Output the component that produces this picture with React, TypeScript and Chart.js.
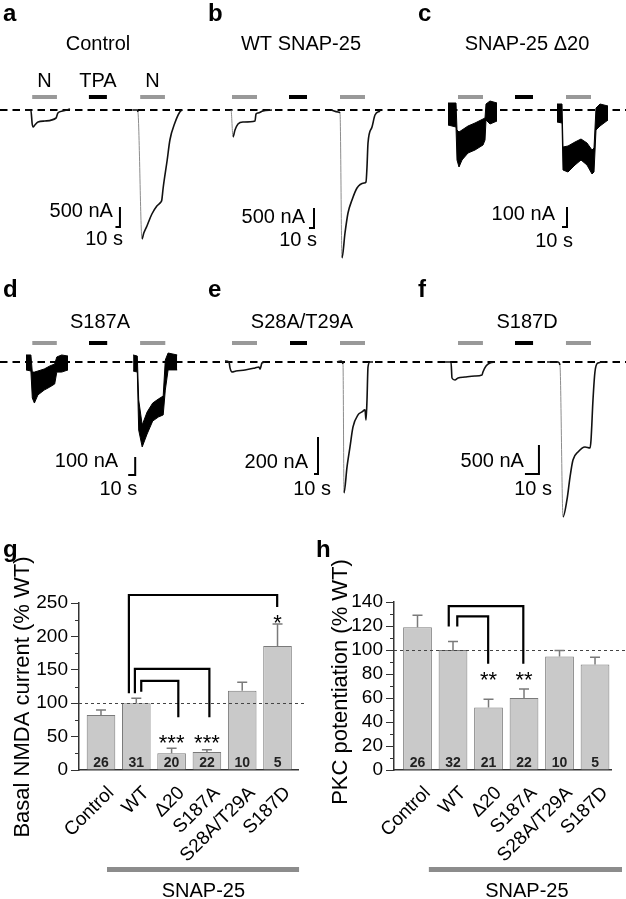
import React, { useEffect, useRef } from 'react';
import { Chart, registerables } from 'chart.js';

Chart.register(...registerables);

const FONT = '"Liberation Sans", Arial, Helvetica, sans-serif';
Chart.defaults.font.family = FONT;

// ================= Trace data (time in s, current in nA) =================
// a: Control
const aLine1T = [0, 13, 16, 18, 22, 29, 44, 69, 73, 84, 100];
const aLine1I = [0, 0, -350, -425, -375, -300, -275, -200, -75, -25, 25];
const aLine2T = [240, 249, 251, 260, 264, 271, 282, 293, 302, 304, 307, 316, 322, 333, 344, 349];
const aLine2I = [0, 0, -50, -3225, -3075, -2900, -2600, -2400, -2300, -2250, -1950, -1250, -750, -325, -50, 0];
const aNBars = [[16, 71], [256, 311]];
const aTpaBar = [142, 182];

// b: WT SNAP-25
const bLine1T = [0, 10, 14, 18, 24, 34, 58, 60, 64, 74, 92];
const bLine1I = [0, 0, -675, -500, -350, -300, -275, -100, -75, -25, 0];
const bLine2T = [210, 224, 228, 232, 238, 244, 252, 262, 276, 280, 282, 284, 292, 298, 308];
const bLine2I = [0, -50, -75, -3700, -3075, -2575, -2250, -1950, -1825, -1800, -1425, -825, -425, -125, -25];
const bNBars = [[12, 62], [228, 278]];
const bTpaBar = [126, 162];

// c: SNAP-25 Δ20 (noisy: upper / lower envelope)
const cNoise1T = [0, 16, 18, 22, 28, 40, 54, 70, 74, 76, 84, 98];
const cNoise1Hi = [35, 35, -100, -110, -100, -80, -65, -45, -40, 30, 45, 35];
const cNoise1Lo = [-75, -85, -250, -285, -250, -215, -200, -175, -150, -50, -70, -55];
const cNoise2T = [218, 228, 230, 240, 254, 266, 278, 288, 292, 296, 304, 320];
const cNoise2Hi = [30, 30, -185, -180, -160, -145, -165, -200, -190, 10, 30, 20];
const cNoise2Lo = [-60, -65, -300, -310, -275, -250, -275, -320, -310, -100, -80, -50];
const cNBars = [[20, 70], [236, 286]];
const cTpaBar = [134, 170];

// d: S187A (noisy)
const dNoise1T = [0, 7, 9, 12, 17, 26, 34, 41, 44, 51, 60];
const dNoise1Hi = [39, 39, -56, -56, -50, -39, -22, -11, 28, 39, 33];
const dNoise1Lo = [-44, -50, -200, -228, -183, -156, -139, -122, -56, -56, -44];
const dNoise2T = [153, 159, 161, 166, 173, 181, 189, 196, 199, 203, 216];
const dNoise2Hi = [39, 33, -211, -350, -278, -228, -206, -189, 11, 50, 39];
const dNoise2Lo = [-50, -56, -378, -472, -400, -328, -306, -294, -156, -44, -44];
const dNBars = [[9, 44], [163, 199]];
const dTpaBar = [90, 116];

// e: S28A/T29A
const eLine1T = [0, 10, 12.5, 17.5, 27.5, 50, 75, 85, 87.5, 92.5, 100];
const eLine1I = [5, 0, -32, -54, -49, -43, -32, -27, -38, -5, 0];
const eLine2T = [280, 290, 295, 297.5, 305, 312.5, 320, 332.5, 342.5, 350, 352.5, 355, 357.5, 362.5, 370];
const eLine2I = [0, 5, -11, -708, -568, -459, -351, -286, -270, -259, -313, -205, -27, 0, 0];
const eNBars = [[17.5, 80], [287.5, 350]];
const eTpaBar = [162.5, 205];

// f: S187D
const fLine1T = [0, 4.3, 5, 7.1, 9.3, 14.3, 21.4, 26.4, 27.1, 29.3, 32.1, 35.7];
const fLine1I = [0, 0, -276, -310, -276, -259, -241, -224, -172, -69, -17, 0];
const fLine2T = [72.9, 80.7, 82.1, 84.3, 87.1, 89.3, 91.4, 95, 100, 103.6, 104.3, 105.7, 107.1, 109.3, 114.3];
const fLine2I = [0, 0, -52, -2672, -2379, -1983, -1690, -1552, -1466, -1483, -1345, -655, -172, -17, 0];
const fNBars = [[9.3, 27.1], [86.4, 104.3]];
const fTpaBar = [50, 62.9];

// ================= Bar chart data =================
const categories = ['Control', 'WT', 'Δ20', 'S187A', 'S28A/T29A', 'S187D'];
const basalMean = [82.5, 100, 25, 27, 118.5, 185.5];
const basalErr = [7.5, 7.5, 7.5, 3.5, 13, 33];
const basalN = ['26', '31', '20', '22', '10', '5'];
const pkcMean = [119, 100, 52, 60, 94.5, 88];
const pkcErr = [10, 7, 7, 7.5, 5, 6];
const pkcN = ['26', '32', '21', '22', '10', '5'];
// brackets: [xLeft, yLeft, xRight, yRight, yTop]
const basalBrackets = [
  [0.79, 115, 4.99, 244, 262],
  [0.96, 115, 3.07, 79, 151.5],
  [1.14, 117, 2.19, 79, 133.5],
];
const basalStars: [number, number, string][] = [[2, 30, '***'], [3, 30, '***'], [5, 210, '*']];
const pkcBrackets = [
  [0.88, 119.5, 2.98, 88.5, 136.5],
  [1.12, 119.5, 1.99, 88.5, 128],
];
const pkcStars: [number, number, string][] = [[2, 69, '**'], [3, 69, '**']];

// ================= Trace panel =================
type Pair = [number[], number[]];
type Band = [number[], number[], number[]];
type TraceCfg = {
  left: number; top: number; width: number; height: number;
  baseY: number; t0px: number; spp: number; npp: number;
  lines: Pair[]; bands: Band[];
  nBars: number[][]; tpaBar: number[]; barGap: number;
  scaleT: number; scaleI: number; scaleNA: number; nALabel: string;
  nAOff: [number, number]; sOff: [number, number];
  letter: string; letterPos: [number, number];
  title: string; titlePos: [number, number];
  appLabelY?: number;
};

const steepDown = (c: any) => {
  const dx = Math.abs(c.p1.x - c.p0.x);
  const dy = c.p1.y - c.p0.y;
  return dy > 20 && dy > 8 * dx;
};

const ROW1 = { top: 0, height: 268, baseY: 110 };
const ROW2 = { top: 268, height: 262, baseY: 94 };

const tracePanels: TraceCfg[] = [
  {
    left: 0, width: 205, ...ROW1, t0px: 25, spp: 10 / 4.5, npp: 500 / 20,
    lines: [[aLine1T, aLine1I], [aLine2T, aLine2I]], bands: [],
    nBars: aNBars, tpaBar: aTpaBar, barGap: 13,
    scaleT: 211, scaleI: -2925, scaleNA: 500, nALabel: '500 nA', nAOff: [-7, -10], sOff: [3, 18],
    letter: 'a', letterPos: [3, 21], title: 'Control', titlePos: [98, 50], appLabelY: 87,
  },
  {
    left: 205, width: 210, ...ROW1, t0px: 21, spp: 2, npp: 25,
    lines: [[bLine1T, bLine1I], [bLine2T, bLine2I]], bands: [],
    nBars: bNBars, tpaBar: bTpaBar, barGap: 13,
    scaleT: 176, scaleI: -2950, scaleNA: 500, nALabel: '500 nA', nAOff: [-9, -5], sOff: [3, 18],
    letter: 'b', letterPos: [3, 21], title: 'WT SNAP-25', titlePos: [96, 50],
  },
  {
    left: 415, width: 211, ...ROW1, t0px: 33, spp: 2, npp: 5,
    lines: [], bands: [[cNoise1T, cNoise1Hi, cNoise1Lo], [cNoise2T, cNoise2Hi, cNoise2Lo]],
    nBars: cNBars, tpaBar: cTpaBar, barGap: 13,
    scaleT: 238, scaleI: -585, scaleNA: 100, nALabel: '100 nA', nAOff: [-12, -7], sOff: [6, 20],
    letter: 'c', letterPos: [3, 21], title: 'SNAP-25 Δ20', titlePos: [112, 50],
  },
  {
    left: 0, width: 205, ...ROW2, t0px: 26, spp: 10 / 7, npp: 100 / 18,
    lines: [], bands: [[dNoise1T, dNoise1Hi, dNoise1Lo], [dNoise2T, dNoise2Hi, dNoise2Lo]],
    nBars: dNBars, tpaBar: dTpaBar, barGap: 19,
    scaleT: 156, scaleI: -628, scaleNA: 100, nALabel: '100 nA', nAOff: [-17, -8], sOff: [2, 20],
    letter: 'd', letterPos: [3, 29], title: 'S187A', titlePos: [100, 60],
  },
  {
    left: 205, width: 210, ...ROW2, t0px: 20, spp: 2.5, npp: 200 / 37,
    lines: [[eLine1T, eLine1I], [eLine2T, eLine2I]], bands: [],
    nBars: eNBars, tpaBar: eTpaBar, barGap: 19,
    scaleT: 232.5, scaleI: -605, scaleNA: 200, nALabel: '200 nA', nAOff: [-10, -6], sOff: [13, 21],
    letter: 'e', letterPos: [3, 29], title: 'S28A/T29A', titlePos: [97, 60],
  },
  {
    left: 415, width: 211, ...ROW2, t0px: 30, spp: 10 / 14, npp: 500 / 29,
    lines: [[fLine1T, fLine1I], [fLine2T, fLine2I]], bands: [],
    nBars: fNBars, tpaBar: fTpaBar, barGap: 19,
    scaleT: 67.1, scaleI: -1931, scaleNA: 500, nALabel: '500 nA', nAOff: [-15, -7], sOff: [13, 21],
    letter: 'f', letterPos: [3, 29], title: 'S187D', titlePos: [112, 60],
  },
];

function TracePanel({ cfg }: { cfg: TraceCfg }) {
  const ref = useRef<HTMLCanvasElement>(null);
  useEffect(() => {
    const datasets: any[] = [];
    cfg.lines.forEach(([t, i]) => {
      datasets.push({
        data: t.map((x, k) => ({ x, y: i[k] })),
        borderColor: '#111', borderWidth: 1.6, pointRadius: 0, fill: false,
        cubicInterpolationMode: 'monotone',
        segment: {
          borderColor: (c: any) => (steepDown(c) ? '#8c8c8c' : undefined),
          borderWidth: (c: any) => (steepDown(c) ? 1 : undefined),
        },
      });
    });
    cfg.bands.forEach(([t, hi, lo]) => {
      datasets.push({
        data: t.map((x, k) => ({ x, y: hi[k] })),
        borderColor: '#000', borderWidth: 1, pointRadius: 0, fill: false,
      });
      datasets.push({
        data: t.map((x, k) => ({ x, y: lo[k] })),
        borderColor: '#000', borderWidth: 1, pointRadius: 0, fill: '-1', backgroundColor: '#000',
      });
    });
    const xMin = -cfg.t0px * cfg.spp;
    const xMax = (cfg.width - cfg.t0px) * cfg.spp;
    const yMax = cfg.baseY * cfg.npp;
    const yMin = -(cfg.height - cfg.baseY) * cfg.npp;
    const deco = {
      id: 'traceDeco',
      beforeDatasetsDraw(chart: any) {
        const { ctx } = chart;
        const y = chart.scales.y.getPixelForValue(0);
        ctx.save();
        ctx.setLineDash([7.5, 5]);
        ctx.lineDashOffset = cfg.left % 12.5;
        ctx.strokeStyle = '#000';
        ctx.lineWidth = 2;
        ctx.beginPath();
        ctx.moveTo(0, y);
        ctx.lineTo(chart.width, y);
        ctx.stroke();
        ctx.restore();
      },
      afterDatasetsDraw(chart: any) {
        const { ctx } = chart;
        const xs = chart.scales.x;
        const ys = chart.scales.y;
        const y0 = ys.getPixelForValue(0);
        ctx.save();
        // application bars
        const barY = y0 - cfg.barGap;
        ctx.lineWidth = 4;
        ctx.strokeStyle = '#999';
        cfg.nBars.forEach((b) => {
          ctx.beginPath();
          ctx.moveTo(xs.getPixelForValue(b[0]), barY);
          ctx.lineTo(xs.getPixelForValue(b[1]), barY);
          ctx.stroke();
        });
        ctx.strokeStyle = '#000';
        ctx.beginPath();
        ctx.moveTo(xs.getPixelForValue(cfg.tpaBar[0]), barY);
        ctx.lineTo(xs.getPixelForValue(cfg.tpaBar[1]), barY);
        ctx.stroke();
        // scale bar
        const cx = xs.getPixelForValue(cfg.scaleT);
        const cy = ys.getPixelForValue(cfg.scaleI);
        const vTop = ys.getPixelForValue(cfg.scaleI + cfg.scaleNA);
        const hLeft = xs.getPixelForValue(cfg.scaleT - 10);
        ctx.lineWidth = 2;
        ctx.strokeStyle = '#000';
        ctx.beginPath();
        ctx.moveTo(cx, vTop);
        ctx.lineTo(cx, cy);
        ctx.lineTo(hLeft, cy);
        ctx.stroke();
        // texts
        ctx.fillStyle = '#000';
        ctx.textBaseline = 'alphabetic';
        ctx.font = `20px ${FONT}`;
        ctx.textAlign = 'right';
        ctx.fillText(cfg.nALabel, cx + cfg.nAOff[0], cy + cfg.nAOff[1]);
        ctx.fillText('10 s', cx + cfg.sOff[0], cy + cfg.sOff[1]);
        ctx.textAlign = 'center';
        ctx.fillText(cfg.title, cfg.titlePos[0], cfg.titlePos[1]);
        if (cfg.appLabelY !== undefined) {
          cfg.nBars.forEach((b) => {
            ctx.fillText('N', xs.getPixelForValue((b[0] + b[1]) / 2), cfg.appLabelY);
          });
          ctx.fillText('TPA', xs.getPixelForValue((cfg.tpaBar[0] + cfg.tpaBar[1]) / 2), cfg.appLabelY);
        }
        ctx.textAlign = 'left';
        ctx.font = `bold 24px ${FONT}`;
        ctx.fillText(cfg.letter, cfg.letterPos[0], cfg.letterPos[1]);
        ctx.restore();
      },
    };
    const chart = new Chart(ref.current as HTMLCanvasElement, {
      type: 'line',
      data: { datasets },
      options: {
        animation: false, responsive: false, maintainAspectRatio: false, devicePixelRatio: 1,
        events: [],
        layout: { padding: 0 },
        plugins: { legend: { display: false }, tooltip: { enabled: false } },
        scales: {
          x: { type: 'linear', display: false, min: xMin, max: xMax },
          y: { type: 'linear', display: false, min: yMin, max: yMax },
        },
      },
      plugins: [deco],
    } as any);
    return () => chart.destroy();
  }, []);
  return (
    <canvas
      ref={ref}
      width={cfg.width}
      height={cfg.height}
      style={{ position: 'absolute', left: cfg.left, top: cfg.top, width: cfg.width, height: cfg.height }}
    />
  );
}

// ================= Bar panel =================
type BarCfg = {
  left: number; top: number; width: number; height: number;
  padRight: number; padTop: number; yAxisW: number; xAxisH: number;
  xMin: number; xMax: number; yMax: number; yStep: number; yMinor: number;
  tickSize: number;
  means: number[]; errs: number[]; ns: string[];
  brackets: number[][]; stars: [number, number, string][];
  refEnd: number; snap: number[]; snapText: number;
  letter: string; letterPos: [number, number];
  title: string; titlePos: [number, number];
};

const barPanels: BarCfg[] = [
  {
    left: 0, top: 540, width: 315, height: 359, padRight: 17, padTop: 63, yAxisW: 79, xAxisH: 129,
    xMin: -0.623, xMax: 5.58, yMax: 250, yStep: 50, yMinor: 25, tickSize: 19,
    means: basalMean, errs: basalErr, ns: basalN, brackets: basalBrackets, stars: basalStars,
    refEnd: 5.78, snap: [0.17, 5.61], snapText: 2.9,
    letter: 'g', letterPos: [3, 17], title: 'Basal NMDA current (% WT)', titlePos: [22.5, 157],
  },
  {
    left: 315, top: 540, width: 311, height: 359, padRight: 15, padTop: 62, yAxisW: 79, xAxisH: 129,
    xMin: -0.662, xMax: 5.45, yMax: 140, yStep: 20, yMinor: 10, tickSize: 19,
    means: pkcMean, errs: pkcErr, ns: pkcN, brackets: pkcBrackets, stars: pkcStars,
    refEnd: 6.2, snap: [0.32, 5.76], snapText: 3.08,
    letter: 'h', letterPos: [1, 17], title: 'PKC potentiation (% WT)', titlePos: [26, 142],
  },
];

function BarPanel({ cfg }: { cfg: BarCfg }) {
  const ref = useRef<HTMLCanvasElement>(null);
  useEffect(() => {
    const deco = {
      id: 'barDeco',
      afterDatasetsDraw(chart: any) {
        const { ctx, chartArea: ca } = chart;
        const xs = chart.scales.x;
        const ys = chart.scales.y;
        ctx.save();
        // minor ticks
        ctx.strokeStyle = '#333';
        ctx.lineWidth = 1;
        ctx.beginPath();
        for (let v = cfg.yMinor; v < cfg.yMax; v += 2 * cfg.yMinor) {
          const y = Math.round(ys.getPixelForValue(v)) + 0.5;
          ctx.moveTo(ca.left - 4, y);
          ctx.lineTo(ca.left, y);
        }
        ctx.stroke();
        // reference dashed line at 100 %
        const yRef = Math.round(ys.getPixelForValue(100)) + 0.5;
        ctx.setLineDash([3, 3]);
        ctx.strokeStyle = '#444';
        ctx.beginPath();
        ctx.moveTo(ca.left, yRef);
        ctx.lineTo(Math.min(xs.getPixelForValue(cfg.refEnd), chart.width), yRef);
        ctx.stroke();
        ctx.setLineDash([]);
        // error bars
        ctx.strokeStyle = '#7a7a7a';
        ctx.lineWidth = 1.5;
        cfg.means.forEach((m, i) => {
          const x = xs.getPixelForValue(i);
          const yA = ys.getPixelForValue(m);
          const yB = ys.getPixelForValue(m + cfg.errs[i]);
          ctx.beginPath();
          ctx.moveTo(x, yA);
          ctx.lineTo(x, yB);
          ctx.moveTo(x - 5, yB);
          ctx.lineTo(x + 5, yB);
          ctx.stroke();
        });
        // n labels
        ctx.fillStyle = '#222';
        ctx.font = `bold 14px ${FONT}`;
        ctx.textAlign = 'center';
        ctx.textBaseline = 'alphabetic';
        cfg.ns.forEach((n, i) => ctx.fillText(n, xs.getPixelForValue(i), ca.bottom - 3));
        // brackets
        ctx.strokeStyle = '#000';
        ctx.lineWidth = 2.2;
        cfg.brackets.forEach(([x1, yl, x2, yr, yt]) => {
          ctx.beginPath();
          ctx.moveTo(xs.getPixelForValue(x1), ys.getPixelForValue(yl));
          ctx.lineTo(xs.getPixelForValue(x1), ys.getPixelForValue(yt));
          ctx.lineTo(xs.getPixelForValue(x2), ys.getPixelForValue(yt));
          ctx.lineTo(xs.getPixelForValue(x2), ys.getPixelForValue(yr));
          ctx.stroke();
        });
        // stars
        ctx.fillStyle = '#000';
        ctx.font = `22px ${FONT}`;
        cfg.stars.forEach(([x, y, s]) => ctx.fillText(s, xs.getPixelForValue(x), ys.getPixelForValue(y)));
        // SNAP-25 bar
        ctx.strokeStyle = '#8c8c8c';
        ctx.lineWidth = 5;
        ctx.beginPath();
        ctx.moveTo(xs.getPixelForValue(cfg.snap[0]), ca.bottom + 99.5);
        ctx.lineTo(xs.getPixelForValue(cfg.snap[1]), ca.bottom + 99.5);
        ctx.stroke();
        ctx.font = `20px ${FONT}`;
        ctx.fillText('SNAP-25', xs.getPixelForValue(cfg.snapText), ca.bottom + 127);
        // letter
        ctx.textAlign = 'left';
        ctx.font = `bold 24px ${FONT}`;
        ctx.fillText(cfg.letter, cfg.letterPos[0], cfg.letterPos[1]);
        // y title
        ctx.translate(cfg.titlePos[0], cfg.titlePos[1]);
        ctx.rotate(-Math.PI / 2);
        ctx.textAlign = 'center';
        ctx.textBaseline = 'middle';
        ctx.font = `22px ${FONT}`;
        ctx.fillText(cfg.title, 0, 0);
        ctx.restore();
      },
    };
    const chart = new Chart(ref.current as HTMLCanvasElement, {
      type: 'bar',
      data: {
        datasets: [
          {
            data: cfg.means.map((v, i) => ({ x: i, y: v })),
            backgroundColor: '#c9c9c9',
            borderColor: '#7a7a7a',
            borderWidth: 1,
            barPercentage: 0.81,
            categoryPercentage: 1,
          },
        ],
      },
      options: {
        animation: false, responsive: false, maintainAspectRatio: false, devicePixelRatio: 1,
        events: [],
        layout: { padding: { left: 0, right: cfg.padRight, top: cfg.padTop, bottom: 0 } },
        plugins: { legend: { display: false }, tooltip: { enabled: false } },
        scales: {
          x: {
            type: 'linear', min: cfg.xMin, max: cfg.xMax, offset: false,
            grid: { display: false, drawTicks: false, tickLength: 0 },
            border: { display: true, color: '#333', width: 1.5 },
            afterBuildTicks: (s: any) => { s.ticks = categories.map((_, i) => ({ value: i })); },
            afterFit: (s: any) => { s.height = cfg.xAxisH; },
            ticks: {
              autoSkip: false, minRotation: 45, maxRotation: 45, padding: 12, labelOffset: 10,
              color: '#000', font: { family: FONT, size: 19 },
              callback: (v: any) => categories[Math.round(Number(v))],
            },
          },
          y: {
            type: 'linear', min: 0, max: cfg.yMax,
            afterFit: (s: any) => { s.width = cfg.yAxisW; },
            grid: { display: true, drawOnChartArea: false, drawTicks: true, tickLength: 8, color: '#333' },
            border: { display: true, color: '#333', width: 1.5 },
            ticks: {
              stepSize: cfg.yStep, autoSkip: false, padding: 3, color: '#000',
              font: { family: FONT, size: cfg.tickSize },
            },
          },
        },
      },
      plugins: [deco],
    } as any);
    return () => chart.destroy();
  }, []);
  return (
    <canvas
      ref={ref}
      width={cfg.width}
      height={cfg.height}
      style={{ position: 'absolute', left: cfg.left, top: cfg.top, width: cfg.width, height: cfg.height }}
    />
  );
}

export default function App() {
  return (
    <div style={{ position: 'absolute', left: 0, top: 0, width: 626, height: 899, background: '#fff', overflow: 'hidden' }}>
      {tracePanels.map((p, i) => (
        <TracePanel key={'t' + i} cfg={p} />
      ))}
      {barPanels.map((p, i) => (
        <BarPanel key={'b' + i} cfg={p} />
      ))}
    </div>
  );
}
